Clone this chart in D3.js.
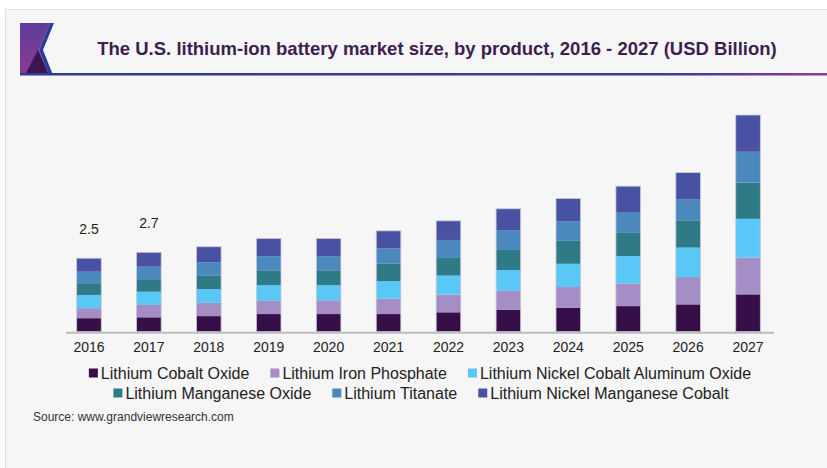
<!DOCTYPE html>
<html>
<head>
<meta charset="utf-8">
<script src="https://cdn.jsdelivr.net/npm/d3@7"></script>
<style>
  html, body { margin: 0; padding: 0; background: #ffffff; }
  svg { display: block; font-family: "Liberation Sans", Arial, sans-serif; }
</style>
</head>
<body>
<div id="chart-area"></div>
<script>
// data (USD billion)
var years = ["2016","2017","2018","2019","2020","2021","2022","2023","2024","2025","2026","2027"];
var seriesNames = ["Lithium Cobalt Oxide", "Lithium Iron Phosphate", "Lithium Nickel Cobalt Aluminum Oxide",
                   "Lithium Manganese Oxide", "Lithium Titanate", "Lithium Nickel Manganese Cobalt"];
var cobaltOxide    = [0.46, 0.49, 0.53, 0.60, 0.60, 0.60, 0.66, 0.74, 0.81, 0.87, 0.93, 1.27];
var ironPhosphate  = [0.34, 0.42, 0.45, 0.45, 0.47, 0.52, 0.60, 0.65, 0.71, 0.77, 0.93, 1.25];
var nickelCobaltAl = [0.45, 0.45, 0.47, 0.53, 0.51, 0.60, 0.65, 0.71, 0.79, 0.93, 1.00, 1.32];
var manganeseOxide = [0.40, 0.40, 0.45, 0.51, 0.51, 0.59, 0.60, 0.68, 0.78, 0.79, 0.91, 1.23];
var titanate       = [0.39, 0.45, 0.46, 0.48, 0.48, 0.52, 0.61, 0.66, 0.67, 0.71, 0.74, 1.05];
var nickelMnCobalt = [0.46, 0.49, 0.53, 0.60, 0.60, 0.60, 0.65, 0.74, 0.77, 0.88, 0.90, 1.25];
var labelYears = ["2016", "2017"];
var labelValues = ["2.5", "2.7"];

var colors = ["#360f48", "#a58ec6", "#5ac8f6", "#2e7a86", "#4b88be", "#4951a3"];

var W = 827, H = 468;
var baseY = 331.7;

var svg = d3.select("#chart-area")
    .append("svg")
        .attr("width", W)
        .attr("height", H);

// panel background
svg.append("rect")
    .attr("x", 5.5).attr("y", 9.5)
    .attr("width", W).attr("height", H)
    .attr("fill", "#f6f6f6")
    .attr("stroke", "#e0e0e0");

// header: logo + title + underline
var defs = svg.append("defs");
var lg = defs.append("linearGradient").attr("id", "logoGrad")
    .attr("x1", 0).attr("y1", 0).attr("x2", 0).attr("y2", 1);
lg.append("stop").attr("offset", "0%").attr("stop-color", "#5d3d9c");
lg.append("stop").attr("offset", "100%").attr("stop-color", "#8e3a90");
var ug = defs.append("linearGradient").attr("id", "lineGrad")
    .attr("x1", 0).attr("y1", 0).attr("x2", 1).attr("y2", 0);
ug.append("stop").attr("offset", "0%").attr("stop-color", "#2c3b96");
ug.append("stop").attr("offset", "80%").attr("stop-color", "#3c3c9a");
ug.append("stop").attr("offset", "100%").attr("stop-color", "#8a3b96");

svg.append("polygon")
    .attr("points", "20,23 50,23 39,50 49,75 20,75")
    .attr("fill", "url(#logoGrad)");
svg.append("polygon")
    .attr("points", "25,75 38,50 49,75")
    .attr("fill", "#3b1650");
svg.append("polygon")
    .attr("points", "50,23 54,23 43,50 53,75 49,75 39,50")
    .attr("fill", "#2b3b98");
svg.append("rect")
    .attr("x", 20).attr("y", 73)
    .attr("width", W - 20).attr("height", 2.5)
    .attr("fill", "url(#lineGrad)");

svg.append("text")
    .attr("x", 437)
    .attr("y", 54.5)
    .attr("text-anchor", "middle")
    .attr("font-size", "18.5px")
    .attr("font-weight", "bold")
    .attr("fill", "#3b1f4f")
    .text("The U.S. lithium-ion battery market size, by product, 2016 - 2027 (USD Billion)");

// scales
var xScale = d3.scaleBand()
    .domain(years)
    .range([59, 778])
    .paddingInner(0.59)
    .paddingOuter(0.295);
var yScale = d3.scaleLinear()
    .domain([0, 8])
    .range([baseY, baseY - 8 * 29.4]);

// stacked data
var allSeries = [cobaltOxide, ironPhosphate, nickelCobaltAl, manganeseOxide, titanate, nickelMnCobalt];
var table = years.map(function(y, i) {
    var row = { year: y };
    seriesNames.forEach(function(n, j) { row[n] = allSeries[j][i]; });
    return row;
});
var stack = d3.stack().keys(seriesNames);
var layers = stack(table);

svg.append("g").selectAll("g")
    .data(layers)
    .enter().append("g")
        .attr("fill", function(d, i) { return colors[i]; })
    .selectAll("rect")
    .data(function(d) { return d; })
    .enter().append("rect")
        .attr("x", function(d) { return xScale(d.data.year); })
        .attr("y", function(d) { return yScale(d[1]); })
        .attr("width", xScale.bandwidth())
        .attr("height", function(d) { return yScale(d[0]) - yScale(d[1]); });

// thin outline round each bar
svg.append("g").selectAll("rect")
    .data(table)
    .enter().append("rect")
        .attr("x", function(d) { return xScale(d.year); })
        .attr("y", function(d, i) { return yScale(layers[layers.length - 1][i][1]); })
        .attr("width", xScale.bandwidth())
        .attr("height", function(d, i) { return baseY - yScale(layers[layers.length - 1][i][1]); })
        .attr("fill", "none")
        .attr("stroke", "#c9c6d6")
        .attr("stroke-width", 0.8);

// value labels
labelYears.forEach(function(y, k) {
    var i = years.indexOf(y);
    svg.append("text")
        .attr("x", xScale(y) + xScale.bandwidth() / 2)
        .attr("y", yScale(layers[layers.length - 1][i][1]) - 24)
        .attr("text-anchor", "middle")
        .attr("font-size", "14px")
        .attr("fill", "#222")
        .text(labelValues[k]);
});

// baseline
svg.append("line")
    .attr("x1", 66).attr("x2", 774)
    .attr("y1", baseY + 1).attr("y2", baseY + 1)
    .attr("stroke", "#bdbdbd")
    .attr("stroke-width", 2);

// X axis
var xAxisCall = d3.axisBottom(xScale).tickSize(0).tickPadding(10);
var xAxis = svg.append("g")
    .attr("class", "x axis")
    .attr("transform", "translate(0," + baseY + ")")
    .call(xAxisCall);
xAxis.select(".domain").remove();
xAxis.selectAll("text")
    .attr("font-size", "14px")
    .attr("font-family", "Liberation Sans, Arial, sans-serif")
    .attr("fill", "#222");

// legend, two centred rows
var rows = [[0, 1, 2], [3, 4, 5]];
var rowY = [373, 393];
var rowCenter = [420, 421];
rows.forEach(function(idx, r) {
    var g = svg.append("g");
    var xPos = 0;
    idx.forEach(function(j, k) {
        var item = g.append("g").attr("transform", "translate(" + xPos + ",0)");
        item.append("rect")
            .attr("x", 0).attr("y", rowY[r] - 4.5)
            .attr("width", 9).attr("height", 9)
            .attr("fill", colors[j]);
        var t = item.append("text")
            .attr("x", 12)
            .attr("y", rowY[r] + 5.7)
            .attr("font-size", "16px")
            .attr("fill", "#222")
            .text(seriesNames[j]);
        xPos += 12 + t.node().getComputedTextLength() + 21;
    });
    var total = xPos - 21;
    g.attr("transform", "translate(" + (rowCenter[r] - total / 2) + ",0)");
});

// source
svg.append("text")
    .attr("x", 33)
    .attr("y", 421)
    .attr("font-size", "12px")
    .attr("fill", "#333")
    .text("Source: www.grandviewresearch.com");
</script>
</body>
</html>
